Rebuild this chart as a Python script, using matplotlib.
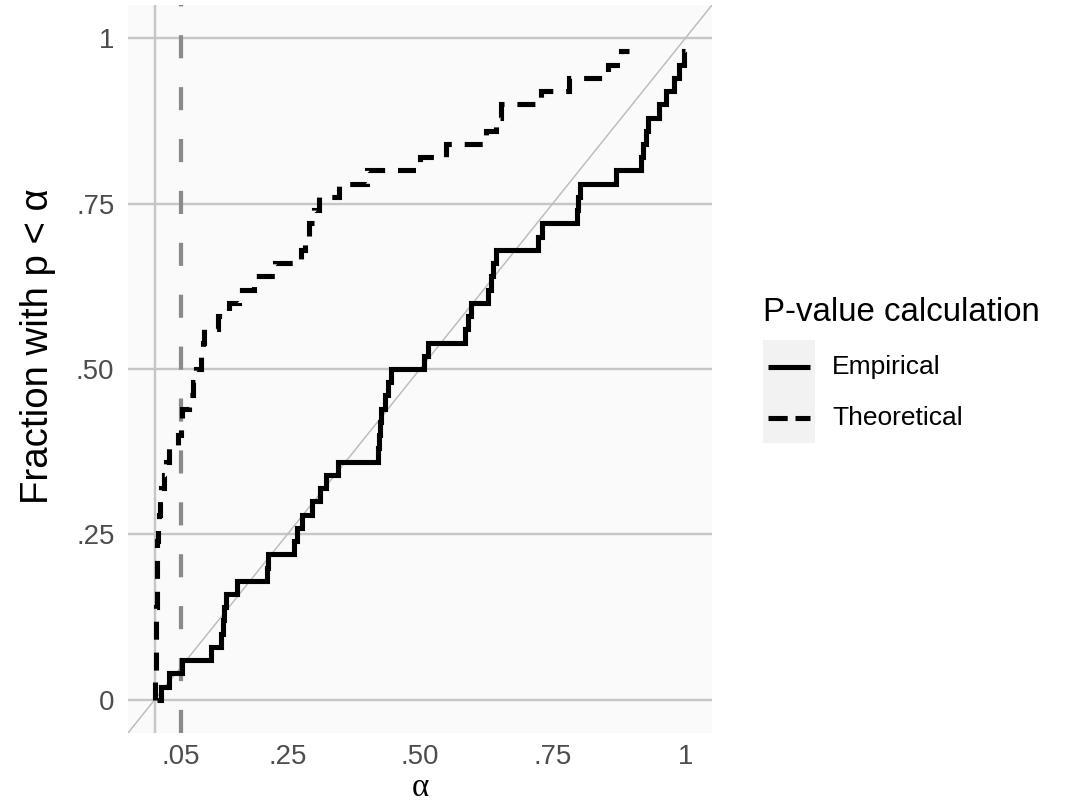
import matplotlib
matplotlib.use('Agg')
import matplotlib.pyplot as plt
from matplotlib.lines import Line2D
from matplotlib.patches import Rectangle

plt.rcParams['font.family'] = ['Liberation Sans', 'DejaVu Sans']
plt.rcParams['lines.scale_dashes'] = False

# ---------------- data ----------------
emp_x = [0.004, 0.012, 0.028, 0.052, 0.107, 0.125, 0.128, 0.131, 0.135, 0.155,
         0.211, 0.214, 0.263, 0.268, 0.277, 0.297, 0.312, 0.323, 0.345, 0.420,
         0.422, 0.424, 0.426, 0.434, 0.440, 0.446, 0.508, 0.516, 0.585, 0.590,
         0.596, 0.628, 0.634, 0.638, 0.643, 0.722, 0.730, 0.795, 0.798, 0.802,
         0.870, 0.916, 0.920, 0.925, 0.930, 0.950, 0.963, 0.978, 0.988, 0.998,
         1.000]
emp_y = [0.00, 0.02, 0.04, 0.06, 0.08, 0.10, 0.12, 0.14, 0.16, 0.18,
         0.20, 0.22, 0.24, 0.26, 0.28, 0.30, 0.32, 0.34, 0.36, 0.38,
         0.40, 0.42, 0.44, 0.46, 0.48, 0.50, 0.52, 0.54, 0.56, 0.58,
         0.60, 0.62, 0.64, 0.66, 0.68, 0.70, 0.72, 0.74, 0.76, 0.78,
         0.80, 0.82, 0.84, 0.86, 0.88, 0.90, 0.92, 0.94, 0.96, 0.98,
         0.98]

theo_x = [0.0005, 0.0010, 0.0015, 0.0020, 0.0025, 0.0030, 0.0033, 0.0036, 0.0040, 0.0043,
          0.0046, 0.0050, 0.0055, 0.0060, 0.009, 0.011, 0.013, 0.018, 0.022, 0.028,
          0.045, 0.049, 0.052, 0.065, 0.072, 0.078, 0.088, 0.091, 0.094, 0.120,
          0.140, 0.160, 0.188, 0.226, 0.275, 0.283, 0.290, 0.300, 0.310, 0.347,
          0.400, 0.500, 0.549, 0.624, 0.643, 0.652, 0.727, 0.780, 0.855, 0.878,
          0.893]
theo_y = [0.00, 0.02, 0.04, 0.06, 0.08, 0.10, 0.12, 0.14, 0.16, 0.18,
          0.20, 0.22, 0.24, 0.26, 0.28, 0.30, 0.32, 0.34, 0.36, 0.38,
          0.40, 0.42, 0.44, 0.46, 0.48, 0.50, 0.52, 0.54, 0.56, 0.58,
          0.60, 0.62, 0.64, 0.66, 0.68, 0.70, 0.72, 0.74, 0.76, 0.78,
          0.80, 0.82, 0.84, 0.86, 0.88, 0.90, 0.92, 0.94, 0.96, 0.98,
          0.98]

series_names = ['Empirical', 'Theoretical']
legend_title = 'P-value calculation'
x_ticks = [0.05, 0.25, 0.50, 0.75, 1.00]
x_tick_labels = ['.05', '.25', '.50', '.75', '1']
x_grid = [0.0, 0.25, 0.50, 0.75, 1.00]
y_ticks = [0.0, 0.25, 0.50, 0.75, 1.00]
y_tick_labels = ['0', '.25', '.50', '.75', '1']
alpha_level = 0.05
x_label = 'α'
y_label = 'Fraction with p < α'

# ---------------- figure ----------------
W, H, DPI = 1066, 801, 216
fig = plt.figure(figsize=(W / DPI, H / DPI), dpi=DPI)
fig.patch.set_facecolor('white')

L, R, T, B = 128, 712, 5, 733
ax = fig.add_axes([L / W, 1 - B / H, (R - L) / W, (B - T) / H])
ax.set_facecolor('#FAFAFA')
for s in ax.spines.values():
    s.set_visible(False)

ax.set_xlim(-0.05, 1.05)
ax.set_ylim(-0.05, 1.05)

ax.set_xticks(x_ticks)
ax.set_xticklabels(x_tick_labels)
ax.set_xticks(x_grid, minor=True)
ax.set_yticks(y_ticks)
ax.set_yticklabels(y_tick_labels)
ax.tick_params(which='both', length=0)
ax.tick_params(axis='y', which='major', labelsize=9.2, labelcolor='#4D4D4D', pad=4.5)
ax.tick_params(axis='x', which='major', labelsize=9.2, labelcolor='#4D4D4D', pad=3.5)

grid_kw = dict(color='#C6C6C6', linewidth=0.8)
ax.grid(False)
ax.xaxis.grid(True, which='minor', **grid_kw)
ax.yaxis.grid(True, which='major', **grid_kw)
ax.set_axisbelow(True)

# diagonal reference line
ax.axline((0, 0), slope=1, color='#BDBDBD', linewidth=0.5, zorder=1.5)

# alpha = 0.05 vertical dashed line
ax.axvline(alpha_level, color='#8A8A8A', linewidth=1.4, dashes=(7.7, 9.6),
           dash_capstyle='butt', zorder=2)

# step curves
ax.step(emp_x, emp_y, where='post', color='black', linewidth=1.7,
        solid_joinstyle='miter', solid_capstyle='butt', zorder=3)
ax.step(theo_x, theo_y, where='post', color='black', linewidth=1.7,
        dashes=(6.0, 4.3), dash_capstyle='butt', dash_joinstyle='miter', zorder=3)

# axis titles
fig.text(38 / W, 1 - 346 / H, y_label, rotation=90, ha='center', va='center',
         fontsize=12.8, color='black')
fig.text(420 / W, 1 - 796 / H, x_label, ha='center', va='baseline',
         fontsize=11, color='black', family=['Liberation Serif', 'DejaVu Serif'])

# legend (ggplot style)
fig.text(763 / W, 1 - 321 / H, legend_title, ha='left', va='baseline',
         fontsize=11, color='black')
fig.add_artist(Rectangle((763 / W, 1 - 443 / H), 52 / W, 103 / H,
                         transform=fig.transFigure, facecolor='#F2F2F2',
                         edgecolor='none'))
key_y = [367, 418]
styles = [dict(), dict(dashes=(6.4, 2.6), dash_capstyle='butt')]
for name, ky, st in zip(series_names, key_y, styles):
    fig.add_artist(Line2D([768 / W, 810 / W], [1 - ky / H, 1 - ky / H],
                          transform=fig.transFigure, color='black',
                          linewidth=1.7, solid_capstyle='butt', **st))
    fig.text(832 / W, 1 - ky / H, name, ha='left', va='center',
             fontsize=8.8, color='black')

fig.savefig('out.png', dpi=DPI, facecolor='white')
